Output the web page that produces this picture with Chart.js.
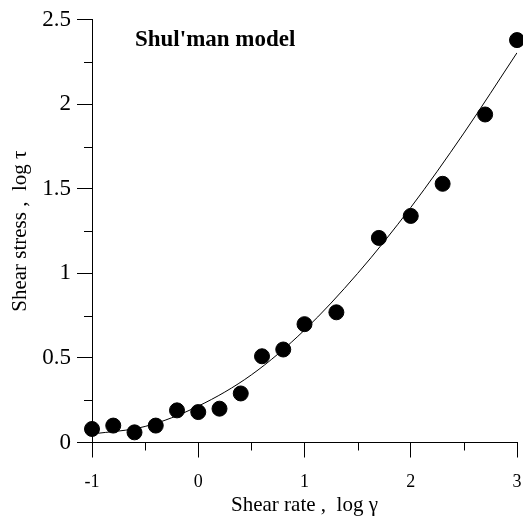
<!DOCTYPE html>
<html>
<head>
<meta charset="utf-8">
<script src="https://cdn.jsdelivr.net/npm/chart.js@4/dist/chart.umd.min.js"></script>
<style>
  html, body { margin: 0; padding: 0; background: #ffffff; }
  #wrap { width: 523px; height: 521px; position: relative; }
</style>
</head>
<body>
<div id="wrap"><canvas id="c" width="523" height="521"></canvas></div>
<script>
// Measured data points
const shearRate   = [-1, -0.8, -0.6, -0.4, -0.2, 0, 0.2, 0.4, 0.6, 0.8, 1.0, 1.3, 1.7, 2.0, 2.3, 2.7, 3.0];
const shearStress = [0.08, 0.10, 0.06, 0.10, 0.19, 0.18, 0.20, 0.29, 0.51, 0.55, 0.70, 0.77, 1.21, 1.34, 1.53, 1.94, 2.38];

// Model curve
const fitX = [-1, -0.5, 0, 0.5, 1, 1.5, 2, 2.5, 3];
const fitY = [0.05, 0.095, 0.215, 0.40, 0.665, 1.0, 1.39, 1.83, 2.305];

// Axis settings
const xMin = -1, xMax = 3, xMajor = 1, xMinor = 0.5;
const yMin = 0, yMax = 2.5, yMajor = 0.5, yMinor = 0.25;

const chartTitle = "Shul'man model";
const xTitle = "Shear rate ,  log \u03B3";
const yTitle = "Shear stress ,  log \u03C4";

const serif = "'Liberation Serif', 'Times New Roman', serif";

const toPts = (xs, ys) => xs.map((x, i) => ({ x: x, y: ys[i] }));

const extras = {
  id: 'extras',
  afterDraw(chart) {
    const ctx = chart.ctx;
    const xs = chart.scales.x, ys = chart.scales.y;
    const area = chart.chartArea;
    ctx.save();
    ctx.strokeStyle = '#000';
    ctx.lineWidth = 1;
    ctx.beginPath();
    for (let v = xMin + xMinor; v < xMax; v += xMajor) {
      const px = Math.round(xs.getPixelForValue(v)) + 0.5;
      ctx.moveTo(px, area.bottom);
      ctx.lineTo(px, area.bottom + 8);
    }
    for (let v = yMin + yMinor; v < yMax; v += yMajor) {
      const py = Math.round(ys.getPixelForValue(v)) + 0.5;
      ctx.moveTo(area.left, py);
      ctx.lineTo(area.left - 8, py);
    }
    ctx.stroke();
    ctx.fillStyle = '#000';
    ctx.font = "bold 23px " + serif;
    ctx.textBaseline = 'alphabetic';
    ctx.textAlign = 'left';
    ctx.fillText(chartTitle, area.left + 43, area.top + 26);
    ctx.restore();
  }
};

new Chart(document.getElementById('c'), {
  type: 'scatter',
  data: {
    datasets: [
      {
        type: 'line',
        label: 'model',
        data: toPts(fitX, fitY),
        borderColor: '#000',
        borderWidth: 1,
        pointRadius: 0,
        fill: false,
        tension: 0.4,
        cubicInterpolationMode: 'monotone',
        order: 2
      },
      {
        type: 'scatter',
        label: 'data',
        data: toPts(shearRate, shearStress),
        backgroundColor: '#000',
        borderColor: '#000',
        pointRadius: 7.5,
        pointHoverRadius: 7.5,
        clip: false,
        order: 1
      }
    ]
  },
  options: {
    responsive: false,
    animation: false,
    layout: { autoPadding: false, padding: { left: 0, right: 6, top: 17, bottom: 0 } },
    plugins: {
      legend: { display: false },
      tooltip: { enabled: false }
    },
    scales: {
      x: {
        type: 'linear',
        min: xMin, max: xMax,
        grid: { drawOnChartArea: false, drawTicks: true, tickLength: 15, color: '#000', tickColor: '#000' },
        border: { display: true, color: '#000', width: 1 },
        ticks: {
          stepSize: xMajor, color: '#000', padding: 0,
          font: { family: serif, size: 18, lineHeight: 2.76 },
          maxRotation: 0,
          callback: (v) => String(v)
        },
        title: {
          display: true, text: xTitle, color: '#000',
          font: { family: serif, size: 21 },
          padding: { top: 0, bottom: 3 }
        },
        afterFit(scale) { scale.height = 78.5; }
      },
      y: {
        type: 'linear',
        min: yMin, max: yMax,
        grid: { drawOnChartArea: false, drawTicks: true, tickLength: 15, color: '#000', tickColor: '#000' },
        border: { display: true, color: '#000', width: 1 },
        ticks: {
          stepSize: yMajor, color: '#000', padding: 6,
          font: { family: serif, size: 23 },
          callback: (v) => String(v)
        },
        title: {
          display: true, text: yTitle, color: '#000',
          font: { family: serif, size: 21 },
          padding: { top: 8, bottom: 0 }
        },
        afterFit(scale) { scale.width = 92; }
      }
    }
  },
  plugins: [extras]
});
</script>
</body>
</html>
